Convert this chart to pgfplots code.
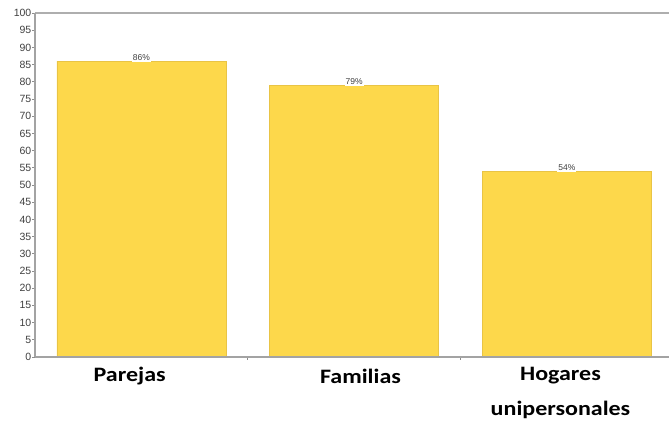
\documentclass[border=0pt]{standalone}
\usepackage{pgfplots}
\pgfplotsset{compat=1.18}
\usepackage{fontspec}
\setmainfont{Liberation Sans}
\newfontfamily\calib{Carlito}
\definecolor{baryellow}{HTML}{FDD84B}
\definecolor{baredge}{HTML}{E9C445}
\definecolor{axgray}{HTML}{8C8C8C}
\newcommand{\catlab}[1]{\scalebox{1.17}[1]{\calib\bfseries\fontsize{20.5}{24}\selectfont #1}}
\begin{document}
\begin{tikzpicture}
\useasboundingbox (-35pt,-67pt) rectangle (634pt,357pt);
\begin{axis}[
  at={(0,0)}, anchor=south west,
  scale only axis, width=634pt, height=344pt,
  xmin=-0.5, xmax=2.48, ymin=0, ymax=100,
  ybar, bar width=169pt, bar shift=0pt,
  axis line style={draw=none},
  ytick={0,5,...,100},
  ytick pos=left, xtick pos=bottom,
  ytick style={draw=axgray, line width=0.8pt},
  tick align=outside, major tick length=2.5pt,
  yticklabel style={font=\fontsize{10.5}{11}\selectfont, text=black!75, inner sep=1pt},
  /pgf/number format/assume math mode=true,
  xtick={0.5,1.5},
  xticklabels={},
  xtick style={draw=axgray, line width=0.6pt},
  nodes near coords={\pgfmathprintnumber{\pgfplotspointmeta}\%},
  nodes near coords style={font=\fontsize{8.5}{9}\selectfont, text=black!75, fill=white, inner sep=1pt, yshift=-1pt},
  clip=false,
]
\addplot[fill=baryellow, draw=baredge, line width=0.5pt] coordinates {(0,86) (1,79) (2,54)};
\draw[axgray!70, line width=1.2pt] (rel axis cs:0,1) -- (rel axis cs:1.006,1);
\draw[axgray!80, line width=1.5pt] (rel axis cs:0,0) -- (rel axis cs:1.006,0);
\draw[axgray!80, line width=1.5pt] (rel axis cs:0,0) -- (rel axis cs:0,1);
\node[anchor=center] at (axis cs:-0.055,0) [yshift=-19pt] {\catlab{Parejas}};
\node[anchor=center] at (axis cs:1.03,0) [yshift=-19pt] {\catlab{Familias}};
\node[anchor=center] at (axis cs:1.97,0) [yshift=-19pt] {\catlab{Hogares}};
\node[anchor=center] at (axis cs:1.97,0) [yshift=-53pt] {\catlab{unipersonales}};
\end{axis}
\end{tikzpicture}
\end{document}
